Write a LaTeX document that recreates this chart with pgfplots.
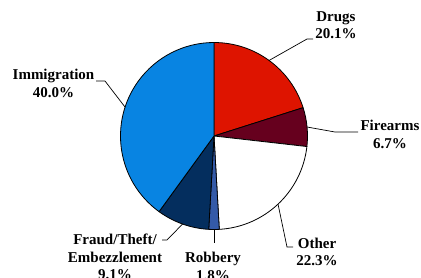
\documentclass[border=0pt]{standalone}
\usepackage{pgfplots}
\usepackage{pgfplotstable}
\pgfplotsset{compat=1.18}
\usepackage{fontspec}
\setmainfont{Liberation Serif}
\definecolor{cDrugs}{RGB}{222,20,0}
\definecolor{cFire}{RGB}{102,0,30}
\definecolor{cOther}{RGB}{255,255,255}
\definecolor{cRob}{RGB}{52,90,168}
\definecolor{cFraud}{RGB}{4,46,94}
\definecolor{cImm}{RGB}{8,132,226}
\tikzset{lbl/.style={font=\bfseries\fontsize{15}{17.5}\selectfont, align=center, inner sep=0pt}}
\pgfplotstableread{
label value color
Drugs 20.1 cDrugs
Firearms 6.7 cFire
Other 22.3 cOther
Robbery 1.8 cRob
Fraud 9.1 cFraud
Immigration 40.0 cImm
}\piedata
\begin{document}
\begin{tikzpicture}
\path[use as bounding box] (0,0) rectangle (421pt,277pt);
\begin{axis}[at={(0,0)}, anchor=south west, scale only axis, width=421pt, height=277pt,
  xmin=0, xmax=421, ymin=0, ymax=277, hide axis, clip=false]
\pgfplotstablegetrowsof{\piedata}
\pgfmathtruncatemacro\lastrow{\pgfplotsretval-1}
\gdef\cumangle{90}
\pgfplotsforeachungrouped \i in {0,...,\lastrow}{%
  \pgfplotstablegetelem{\i}{value}\of\piedata \let\v\pgfplotsretval
  \pgfplotstablegetelem{\i}{color}\of\piedata \let\c\pgfplotsretval
  \pgfmathsetmacro\endangle{\cumangle-3.6*\v}%
  \edef\temp{\noexpand\filldraw[fill=\c, draw=black, line width=0.8pt, line join=round]
    (axis cs:214,141) -- ([shift={(\cumangle:93.5pt)}]axis cs:214,141)
    arc[start angle=\cumangle, end angle=\endangle, radius=93.5pt] -- cycle;}%
  \temp
  \global\let\cumangle\endangle
}
% leader lines
\draw[line width=0.7pt] (axis cs:269,216.5) -- (axis cs:307,238) -- (axis cs:313,238);
\draw[line width=0.7pt] (axis cs:307,150) -- (axis cs:335,145) -- (axis cs:358,145);
\draw[line width=0.7pt] (axis cs:278,73) -- (axis cs:287,30) -- (axis cs:293,30);
\draw[line width=0.7pt] (axis cs:214,47.5) -- (axis cs:214,34);
\draw[line width=0.7pt] (axis cs:182.6,53) -- (axis cs:167,37) -- (axis cs:162,37);
\draw[line width=0.7pt] (axis cs:125,170) -- (axis cs:105,196) -- (axis cs:96,196);
% labels
\node[lbl] at (axis cs:336,252) {Drugs\\20.1\%};
\node[lbl] at (axis cs:390,142.5) {Firearms\\6.7\%};
\node[lbl] at (axis cs:317,25) {Other\\22.3\%};
\node[lbl] at (axis cs:213,10.5) {Robbery\\1.8\%};
\node[lbl] at (axis cs:115,20) {Fraud/Theft/\\Embezzlement\\9.1\%};
\node[lbl] at (axis cs:53.5,193.5) {Immigration\\40.0\%};
\end{axis}
\end{tikzpicture}
\end{document}
